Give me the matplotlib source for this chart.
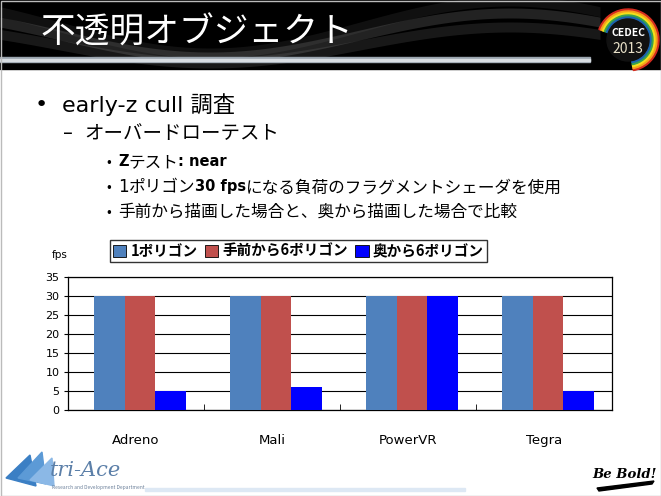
import numpy as np
import matplotlib
matplotlib.use('Agg')
import matplotlib.pyplot as plt
from matplotlib.patches import Rectangle, Circle, Polygon, Wedge

plt.rcParams['font.family'] = ['Noto Sans CJK JP', 'DejaVu Sans']

# chart data
gpus = ['Adreno', 'Mali', 'PowerVR', 'Tegra']
series_names = ['1ポリゴン', '手前から6ポリゴン', '奥から6ポリゴン']
fps_one = [30, 30, 30, 30]
fps_front = [30, 30, 30, 30]
fps_back = [5, 6, 30, 5]
series_colors = ['#4F81BD', '#C0504D', '#0000FF']
y_ticks = [0, 5, 10, 15, 20, 25, 30, 35]

title = '不透明オブジェクト'
# (text, bold) pieces per sub bullet
sub_bullets = [
    [('Z', True), ('テスト', False), (': near', True)],
    [('1', False), ('ポリゴン', False), ('30 fps', True), ('になる負荷のフラグメントシェーダを使用', False)],
    [('手前から描画した場合と、奥から描画した場合で比較', False)],
]

W, H = 661, 496
fig = plt.figure(figsize=(W / 100, H / 100), dpi=100)
latin_first = ['DejaVu Sans', 'Noto Sans CJK JP']

# background layer in pixel coordinates
bg = fig.add_axes([0, 0, 1, 1])
bg.set_xlim(0, W)
bg.set_ylim(H, 0)
bg.axis('off')

# header band
bg.add_patch(Rectangle((0, 0), W, 69, color='black', zorder=1))
xs = np.linspace(0, 600, 200)
for amp, off, alpha in [(22, 30, 0.25), (18, 40, 0.18), (26, 22, 0.12)]:
    top = off + amp * np.sin((xs - 60) / 600 * 2 * np.pi)
    bg.fill_between(xs, top, top + 10, color='#888888', alpha=alpha, lw=0, zorder=2)
bg.add_patch(Rectangle((0, 57), 590, 5, color='#9aa4ae', zorder=3))
bg.add_patch(Rectangle((0, 59), 590, 1.5, color='#d8dde2', zorder=3))
bg.text(40, 33, title, color='white', fontsize=25, va='center', ha='left', zorder=4)

# CEDEC logo
cx, cy = 628, 40
for r, c in [(31, '#d62d20'), (29, '#f7a21b'), (27, '#f4e01b'), (25, '#3aa24b'), (23, '#1b64b0')]:
    bg.add_patch(Wedge((cx, cy), r, 200, 80, width=2, color=c, zorder=4))
bg.add_patch(Circle((cx, cy), 21, color='#111111', zorder=5))
bg.text(cx, cy - 7, 'CEDEC', color='white', fontsize=7.5, fontweight='bold',
        ha='center', va='center', zorder=6)
bg.text(cx, cy + 9, '2013', color='#e8e0c8', fontsize=10, ha='center', va='center', zorder=6)

# body text
bg.text(35, 105, '•', fontsize=16, ha='left', va='center', family=latin_first)
bg.text(62, 105, 'early-z cull 調査', fontsize=16, ha='left', va='center', family=latin_first)
bg.text(63, 134, '–', fontsize=14, ha='left', va='center', family=latin_first)
bg.text(84, 134, 'オーバードローテスト', fontsize=14, ha='left', va='center')
for i, pieces in enumerate(sub_bullets):
    y = 162 + i * 25
    bg.text(106, y, '•', fontsize=10, ha='left', va='center')
    prev = None
    for txt, bold in pieces:
        kw = dict(fontsize=10.5 if bold else 12, va='center', ha='left', family=latin_first,
                  fontweight='bold' if bold else 'normal')
        if prev is None:
            prev = bg.text(118, y, txt, **kw)
        else:
            prev = bg.annotate(txt, xy=(1, 0.5), xycoords=prev, **kw)

# footer
bg.add_patch(Polygon([(6, 478), (30, 455), (36, 486)], color='#3b7fc4', zorder=3))
bg.add_patch(Polygon([(18, 478), (42, 452), (46, 484)], color='#5c9ad6', zorder=3))
bg.add_patch(Polygon([(30, 480), (52, 458), (54, 486)], color='#8bb8e6', zorder=3))
bg.text(50, 470, 'tri-Ace', fontsize=15, fontstyle='italic', family='DejaVu Serif',
        color='#5b7fa8', ha='left', va='center', zorder=4)
bg.text(52, 488, 'Research and Development Department', fontsize=3.5,
        color='#6a7f99', ha='left', va='center', zorder=4)
bg.add_patch(Rectangle((145, 488), 320, 2.5, color='#dde8f4', zorder=2))
bg.text(625, 475, 'Be Bold!', fontsize=9.5, fontstyle='italic', fontweight='bold',
        family='DejaVu Serif', color='black', ha='center', va='center', zorder=4)
bg.add_patch(Polygon([(597, 488), (654, 481), (652, 484), (599, 491)], color='black', zorder=4))
bg.add_patch(Rectangle((0.5, 0.5), W - 1, H - 1, fill=False, edgecolor='#bbbbbb', lw=1, zorder=10))

# bar chart
ax = fig.add_axes([68 / W, 1 - 410 / H, 544 / W, 133 / H])
x = np.arange(len(gpus))
bw = 0.224
for k, (vals, name, col) in enumerate(zip([fps_one, fps_front, fps_back], series_names, series_colors)):
    ax.bar(x + 0.03 + (k - 1) * bw, vals, bw, color=col, label=name, zorder=3,
           edgecolor=col, linewidth=0)
ax.set_xlim(-0.5, len(gpus) - 0.5)
ax.set_ylim(0, 35)
ax.set_yticks(y_ticks)
ax.set_yticklabels([str(v) for v in y_ticks], fontsize=8, family='DejaVu Sans')
ax.yaxis.grid(True, color='black', linewidth=0.8, zorder=0)
ax.set_xticks(x)
ax.set_xticklabels(gpus, fontsize=9.5, family='DejaVu Sans')
ax.tick_params(axis='x', length=0, pad=17)
ax.tick_params(axis='y', length=3, pad=3)
ax.set_xticks(np.arange(0.5, len(gpus) - 0.5, 1), minor=True)
ax.tick_params(axis='x', which='minor', direction='in', length=4, color='black')
for s in ax.spines.values():
    s.set_color('black')
    s.set_linewidth(0.9)
bg.text(52, 255, 'fps', fontsize=7.5, family='DejaVu Sans', ha='left', va='center')

leg = ax.legend(loc='center', bbox_to_anchor=(298.5 / W, 1 - 251 / H),
                bbox_transform=fig.transFigure, ncol=3, frameon=True, fancybox=False,
                handlelength=0.9, handleheight=0.9, handletextpad=0.3, columnspacing=0.5,
                borderpad=0.2, prop={'size': 10.5, 'weight': 'bold'})
leg.get_frame().set_edgecolor('black')
leg.get_frame().set_linewidth(1)
for h in leg.legend_handles:
    h.set_edgecolor('black')
    h.set_linewidth(0.6)

fig.savefig('out.png', dpi=100)
